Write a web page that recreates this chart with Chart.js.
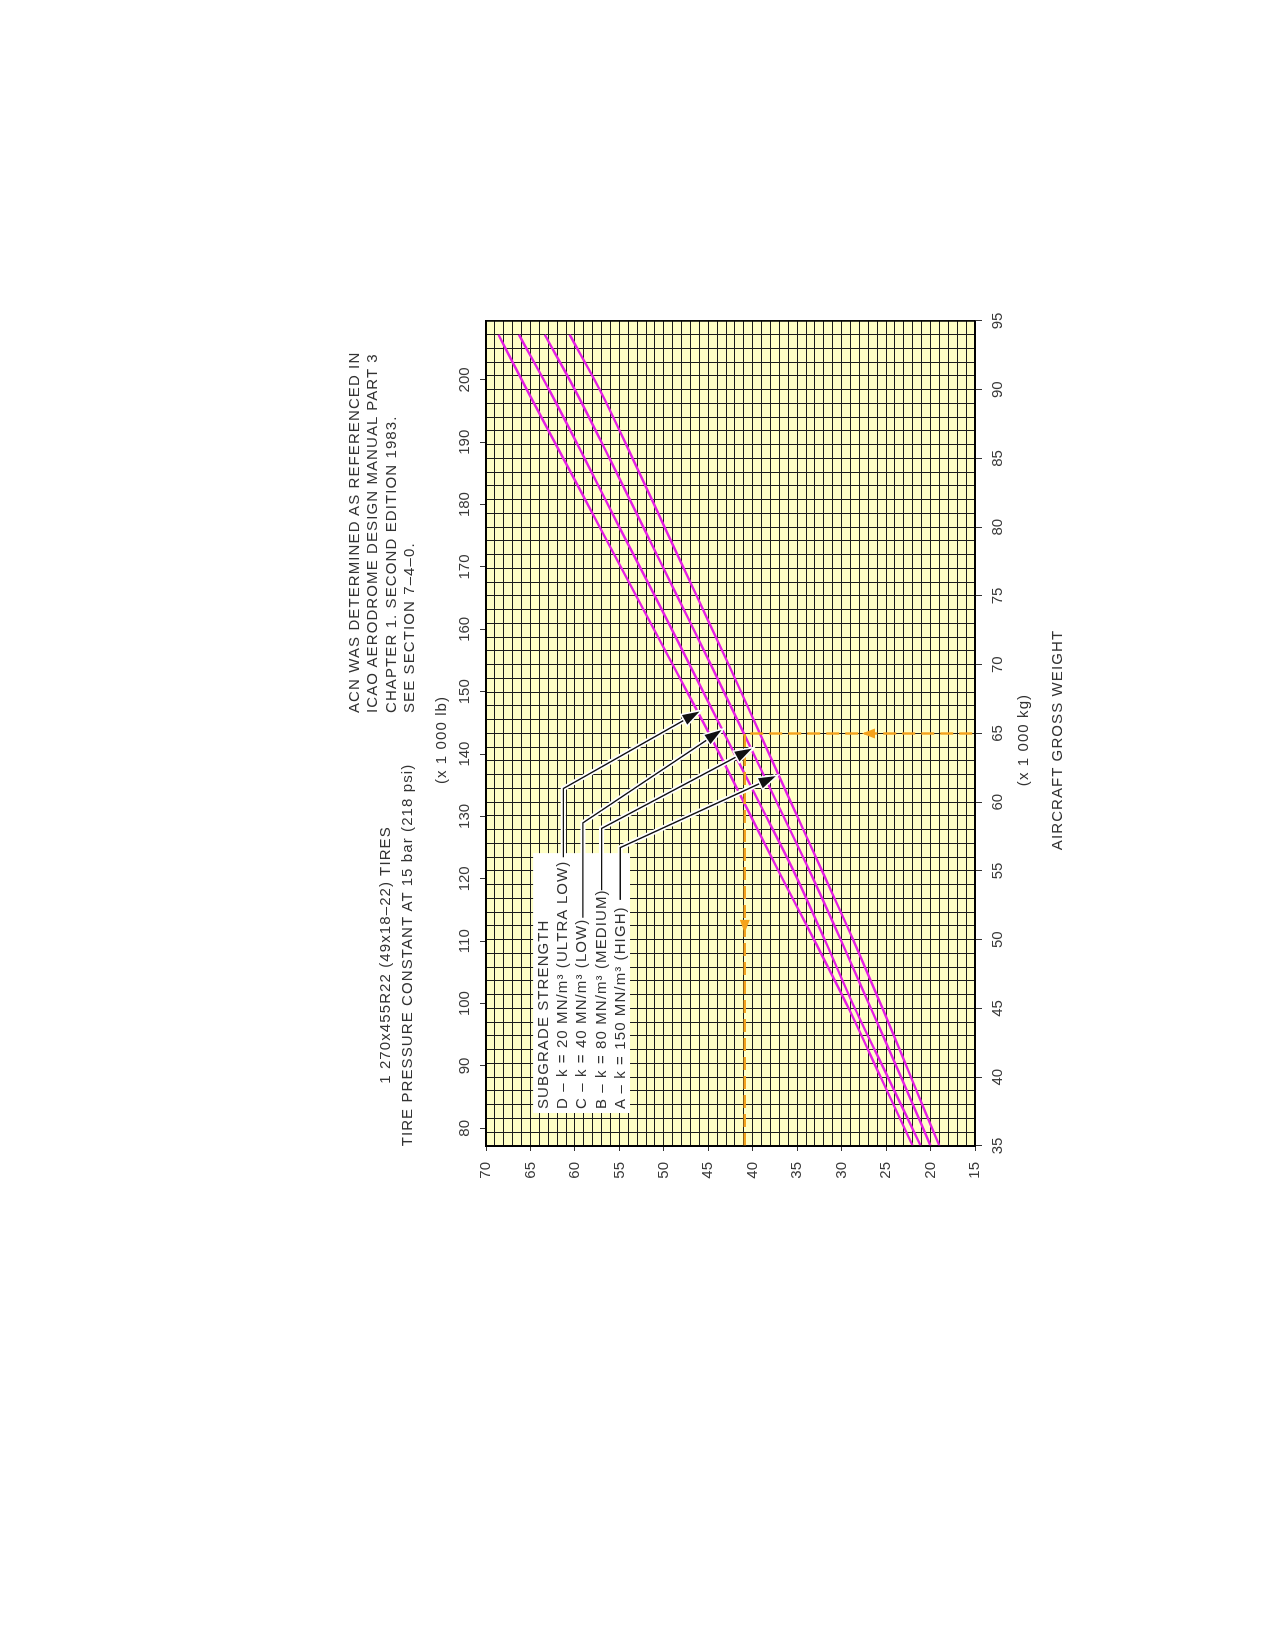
<!DOCTYPE html>
<html>
<head>
<meta charset="utf-8">
<title>ACN - 1 270x455R22 tires</title>
<script src="https://cdn.jsdelivr.net/npm/chart.js@4.4.1/dist/chart.umd.min.js"></script>
<style>
  html, body { margin: 0; padding: 0; background: #fff; }
  body { width: 1275px; height: 1645px; position: relative; overflow: hidden; }
  /* the chart is laid out upright, then turned a quarter turn to the left */
  #sheet { position: absolute; left: 0; top: 0; width: 1645px; height: 1275px;
    transform-origin: 0 0; transform: translate(0, 1645px) rotate(-90deg); }
  #sheet canvas { position: absolute; left: 0; top: 0; }
  .txt { position: absolute; font: 15px "Liberation Sans", Arial, sans-serif; letter-spacing: 1.1px;
    color: #333; white-space: nowrap; line-height: 18px; }
  .center { width: 500px; text-align: center; }
</style>
</head>
<body>
<div id="sheet">
  <canvas id="acn-chart" width="1645" height="1275"></canvas>
  <div class="txt center" style="left:440px;top:374px;line-height:22px">1 270x455R22 (49x18&ndash;22) TIRES<br>TIRE PRESSURE CONSTANT AT 15 bar (218 psi)</div>
  <div class="txt" style="left:932px;top:345px;line-height:18.3px">ACN WAS DETERMINED AS REFERENCED IN<br>ICAO AERODROME DESIGN MANUAL PART 3<br>CHAPTER 1. SECOND EDITION 1983.<br>SEE SECTION 7&ndash;4&ndash;0.</div>
  <div class="txt center" style="left:655px;top:432px">(x 1 000 lb)</div>
  <div class="txt center" style="left:655px;top:1014px">(x 1 000 kg)</div>
  <div class="txt center" style="left:655px;top:1048px">AIRCRAFT GROSS WEIGHT</div>
  <div class="txt" style="left:536px;top:533px;line-height:19.2px">SUBGRADE STRENGTH<br>D &ndash; k = 20 MN/m³ (ULTRA LOW)<br>C &ndash; k = 40 MN/m³ (LOW)<br>B &ndash; k = 80 MN/m³ (MEDIUM)<br>A &ndash; k = 150 MN/m³ (HIGH)</div>
</div>
<script>
// gross weight (x 1 000 kg) and ACN
const weightKg = [35, 40, 45, 50, 55, 60, 65, 70, 75, 80, 85, 90, 94];
const acnD = [22.0, 25.6, 29.2, 33.1, 37.1, 41.0, 44.9, 49.0, 53.1, 57.2, 61.3, 65.4, 68.6];
const acnC = [21.1, 24.8, 28.5, 31.9, 35.4, 39.3, 43.2, 47.1, 51.0, 55.0, 58.9, 62.9, 66.3];
const acnB = [20.0, 23.3, 26.7, 30.1, 33.6, 37.3, 41.0, 44.7, 48.5, 52.3, 56.1, 60.0, 63.4];
const acnA = [19.0, 22.2, 25.4, 28.7, 32.2, 35.7, 39.2, 42.7, 46.3, 49.9, 53.5, 57.2, 60.6];

// axis ranges and the pound scale ticks
const kgRange = [35, 95];
const acnRange = [15, 70];
const lbTicks = [80, 90, 100, 110, 120, 130, 140, 150, 160, 170, 180, 190, 200];
const LB_PER_KG = 1 / 0.45359237;

// example read-off (dashed orange): 65 000 kg -> ACN 41
const readWeight = [35, 65, 65];
const readAcn = [40.9, 40.9, 15];
const readArrowWeight = 50.5;   // arrow on the ACN leg
const readArrowAcn = 27.7;      // arrow on the weight leg

// legend box and leader lines, in (weight, ACN)
const legendBoxWeight = [37.4, 56.3];
const legendBoxAcn = [64.7, 53.8];
const leaderD = [[56.0, 61.3], [61.0, 61.3], [66.6, 46.0]];
const leaderC = [[51.6, 59.1], [58.5, 59.1], [65.25, 43.5]];
const leaderB = [[53.6, 57.0], [58.1, 57.0], [63.9, 40.1]];
const leaderA = [[52.9, 54.9], [56.7, 54.9], [61.9, 37.4]];

const MAGENTA = '#e41fe4';
const ORANGE = '#f5a31c';
const GRID = '#1c1c1c';
const TEXT = '#3a3a3a';
const FONT = { family: '"Liberation Sans", Arial, sans-serif', size: 15 };

const toPoints = (xs, ys) => xs.map((x, i) => ({ x, y: ys[i] }));

function arrowHead(ctx, tip, from, len, half, color, halo) {
  const ang = Math.atan2(tip.y - from.y, tip.x - from.x);
  const bx = tip.x - len * Math.cos(ang), by = tip.y - len * Math.sin(ang);
  const nx = -Math.sin(ang) * half, ny = Math.cos(ang) * half;
  ctx.beginPath();
  ctx.moveTo(tip.x, tip.y);
  ctx.lineTo(bx + nx, by + ny);
  ctx.lineTo(bx - nx, by - ny);
  ctx.closePath();
  if (halo) { ctx.strokeStyle = '#fff'; ctx.lineWidth = 3; ctx.stroke(); }
  ctx.fillStyle = color;
  ctx.fill();
}

const sheetPlugin = {
  id: 'sheet',
  beforeDraw(chart) {
    const { ctx, chartArea: a } = chart;
    ctx.save();
    ctx.fillStyle = '#ffffc6';
    ctx.fillRect(a.left, a.top, a.width, a.height);
    ctx.restore();
  },
  beforeDatasetsDraw(chart) {
    const { ctx, scales: { x, y } } = chart;
    const x0 = x.getPixelForValue(legendBoxWeight[0]), x1 = x.getPixelForValue(legendBoxWeight[1]);
    const y0 = y.getPixelForValue(legendBoxAcn[0]), y1 = y.getPixelForValue(legendBoxAcn[1]);
    ctx.save();
    ctx.fillStyle = '#fff';
    ctx.fillRect(x0, y0, x1 - x0, y1 - y0);
    ctx.restore();
  },
  afterDatasetsDraw(chart) {
    const { ctx, scales: { x, y } } = chart;
    const px = (w, a) => ({ x: x.getPixelForValue(w), y: y.getPixelForValue(a) });
    ctx.save();
    // arrows on the dashed read-off path
    const h = px(readArrowWeight, readAcn[0]);
    arrowHead(ctx, h, { x: h.x + 10, y: h.y }, 13, 5, ORANGE, false);
    const v = px(readWeight[1], readArrowAcn);
    arrowHead(ctx, v, { x: v.x, y: v.y + 10 }, 13, 5, ORANGE, false);

    // leader lines from the legend to each curve
    [leaderD, leaderC, leaderB, leaderA].forEach((path) => {
      const pts = path.map((p) => px(p[0], p[1]));
      ctx.lineJoin = 'miter';
      [['#fff', 5], ['#111', 1.4]].forEach(([col, w]) => {
        ctx.beginPath();
        pts.forEach((p, i) => (i ? ctx.lineTo(p.x, p.y) : ctx.moveTo(p.x, p.y)));
        ctx.strokeStyle = col;
        ctx.lineWidth = w;
        ctx.stroke();
      });
      arrowHead(ctx, pts[pts.length - 1], pts[pts.length - 2], 17, 5.5, '#111', true);
    });
    ctx.restore();
  },
  afterDraw(chart) {
    const { ctx, chartArea: a } = chart;
    ctx.save();
    ctx.strokeStyle = '#000';
    ctx.lineWidth = 1.5;
    ctx.strokeRect(a.left, a.top, a.width, a.height);
    ctx.restore();
  },
};

const everyFive = (v) => (Math.abs(v % 5) < 1e-9 ? v : '');
const fiveTick = (c) => (c.tick && Math.abs(c.tick.value % 5) < 1e-9 ? '#333' : 'rgba(0,0,0,0)');

new Chart(document.getElementById('acn-chart'), {
  type: 'line',
  data: {
    datasets: [
      {
        label: 'read-off',
        data: toPoints(readWeight, readAcn),
        borderColor: ORANGE,
        borderWidth: 2.4,
        borderDash: [13, 6],
        pointRadius: 0,
        tension: 0,
      },
      ...[acnD, acnC, acnB, acnA].map((acn, i) => ({
        label: 'DCBA'[i],
        data: toPoints(weightKg, acn),
        borderColor: MAGENTA,
        borderWidth: 2.4,
        pointRadius: 0,
        cubicInterpolationMode: 'monotone',
      })),
    ],
  },
  options: {
    responsive: false,
    animation: false,
    events: [],
    layout: { padding: { left: 439, top: 446, right: 321, bottom: 260 } },
    plugins: { legend: { display: false }, tooltip: { enabled: false } },
    scales: {
      x: {
        type: 'linear',
        position: 'bottom',
        min: kgRange[0],
        max: kgRange[1],
        bounds: 'data',
        ticks: {
          stepSize: 1, maxTicksLimit: 1000, autoSkip: false, maxRotation: 0, minRotation: 0,
          padding: 7, color: TEXT, font: FONT, callback: everyFive,
        },
        grid: { color: GRID, lineWidth: 1, tickLength: 7, tickColor: fiveTick },
        border: { color: '#000', width: 1.5 },
        afterFit: (s) => { s.height = 40; s.paddingLeft = 0; s.paddingRight = 0; },
      },
      x2: {
        type: 'linear',
        position: 'top',
        min: kgRange[0] * LB_PER_KG,
        max: kgRange[1] * LB_PER_KG,
        bounds: 'data',
        afterBuildTicks: (s) => { s.ticks = lbTicks.map((value) => ({ value })); },
        ticks: {
          autoSkip: false, maxRotation: 0, minRotation: 0, padding: 6, color: TEXT, font: FONT,
        },
        grid: { drawOnChartArea: false, tickLength: 6, tickColor: '#333' },
        border: { color: '#000', width: 1.5 },
        afterFit: (s) => { s.height = 40; s.paddingLeft = 0; s.paddingRight = 0; },
      },
      y: {
        type: 'linear',
        position: 'left',
        min: acnRange[0],
        max: acnRange[1],
        bounds: 'data',
        ticks: {
          stepSize: 1, maxTicksLimit: 1000, autoSkip: false,
          padding: 11, color: TEXT, font: FONT, callback: everyFive,
        },
        grid: { color: GRID, lineWidth: 1, tickLength: 5, tickColor: fiveTick },
        border: { color: '#000', width: 1.5 },
        afterFit: (s) => { s.width = 60; s.paddingTop = 0; s.paddingBottom = 0; },
      },
    },
  },
  plugins: [sheetPlugin],
});
</script>
</body>
</html>
